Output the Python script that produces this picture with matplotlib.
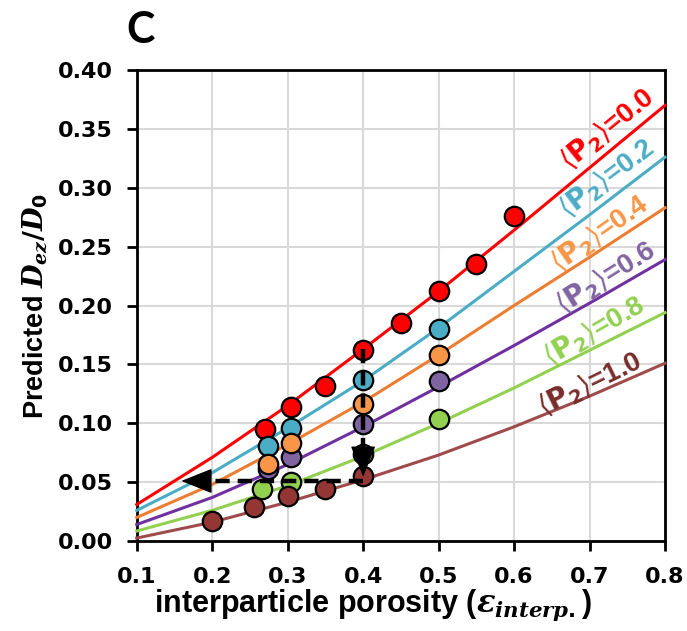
import numpy as np
import matplotlib
matplotlib.use("Agg")
import matplotlib.pyplot as plt

plt.rcParams["mathtext.fontset"] = "custom"
plt.rcParams["mathtext.it"] = "DejaVu Serif:italic:bold"
plt.rcParams["mathtext.rm"] = "DejaVu Sans:bold"
plt.rcParams["mathtext.bf"] = "DejaVu Sans:bold"

# model curves, read at each 0.1 of porosity
curve_x = [0.1, 0.2, 0.3, 0.4, 0.5, 0.6, 0.7, 0.8]
curve_p00 = [0.031, 0.071, 0.115, 0.163, 0.212, 0.264, 0.317, 0.370]
curve_p02 = [0.026, 0.058, 0.096, 0.136, 0.181, 0.229, 0.277, 0.326]
curve_p04 = [0.020, 0.048, 0.082, 0.118, 0.158, 0.200, 0.241, 0.283]
curve_p06 = [0.014, 0.037, 0.065, 0.097, 0.131, 0.166, 0.202, 0.239]
curve_p08 = [0.0085, 0.026, 0.047, 0.072, 0.100, 0.130, 0.162, 0.194]
curve_p10 = [0.0025, 0.016, 0.033, 0.052, 0.073, 0.097, 0.123, 0.151]

# points
pts_p00_x = [0.27, 0.305, 0.35, 0.40, 0.45, 0.50, 0.55, 0.60]
pts_p00_y = [0.095, 0.114, 0.132, 0.162, 0.185, 0.212, 0.235, 0.276]
pts_p02_x = [0.274, 0.305, 0.40, 0.50]
pts_p02_y = [0.081, 0.096, 0.137, 0.180]
pts_p04_x = [0.274, 0.305, 0.40, 0.50]
pts_p04_y = [0.065, 0.083, 0.116, 0.158]
pts_p06_x = [0.274, 0.305, 0.40, 0.50]
pts_p06_y = [0.061, 0.071, 0.099, 0.136]
pts_p08_x = [0.266, 0.305, 0.40, 0.50]
pts_p08_y = [0.044, 0.050, 0.074, 0.104]
pts_p10_x = [0.20, 0.255, 0.30, 0.35, 0.40]
pts_p10_y = [0.017, 0.029, 0.038, 0.044, 0.055]

labels = ["0.0", "0.2", "0.4", "0.6", "0.8", "1.0"]
label_x = [0.723, 0.723, 0.714, 0.722, 0.706, 0.701]
label_y = [0.350, 0.308, 0.261, 0.2236, 0.178, 0.1335]
label_rot = [39, 37, 35, 32, 30, 26]

line_colors = ["#FF0000", "#4BACC6", "#ED7D31", "#7030A0", "#92D050", "#A04B4B"]
mark_colors = ["#FF0000", "#4BACC6", "#F79646", "#8064A2", "#92D050", "#943634"]
text_colors = ["#FF0000", "#4BACC6", "#F79646", "#8064A2", "#92D050", "#772C2A"]

curves = [curve_p00, curve_p02, curve_p04, curve_p06, curve_p08, curve_p10]
points = [(pts_p00_x, pts_p00_y), (pts_p02_x, pts_p02_y), (pts_p04_x, pts_p04_y),
          (pts_p06_x, pts_p06_y), (pts_p08_x, pts_p08_y), (pts_p10_x, pts_p10_y)]
point_z = [5, 6, 8, 7, 9, 10]

# read-out arrows
arrow_x = 0.40
arrow_top = 0.163
arrow_mid = 0.0545
arrow_h_y = 0.051
arrow_left = 0.159

fig = plt.figure(figsize=(6.87, 6.31), dpi=100)
ax = fig.add_axes([0.199, 0.1426, 0.769, 0.7464])

for i in range(6):
    ax.plot(curve_x, curves[i], color=line_colors[i], lw=2.2, zorder=3, clip_on=False)
    px, py = points[i]
    ax.plot(px, py, "o", ms=14, mfc=mark_colors[i], mec="black", mew=1.6,
            zorder=point_z[i])
    ax.text(label_x[i], label_y[i],
            r"$\left\langle\mathbf{P}_{\mathbf{2}}\right\rangle$=" + labels[i],
            color=text_colors[i], fontsize=20, fontweight="bold",
            family="Liberation Sans", math_fontfamily="dejavusans",
            rotation=label_rot[i], rotation_mode="anchor",
            ha="center", va="center", zorder=12)

dash = (0, (3.2, 1.8))
ax.plot([arrow_x, arrow_x], [arrow_top, arrow_mid + 0.02], color="black",
        lw=3.2, linestyle=dash, zorder=15)
ax.annotate("", xy=(arrow_x, arrow_mid), xytext=(arrow_x, arrow_mid + 0.021),
            arrowprops=dict(arrowstyle="-|>,head_length=20,head_width=8",
                            mutation_scale=1, lw=1, color="black",
                            shrinkA=0, shrinkB=0), zorder=16)
ax.plot([arrow_x, arrow_left + 0.035], [arrow_h_y, arrow_h_y], color="black",
        lw=3.2, linestyle=dash, zorder=15)
ax.annotate("", xy=(arrow_left, arrow_h_y), xytext=(arrow_left + 0.036, arrow_h_y),
            arrowprops=dict(arrowstyle="-|>,head_length=20,head_width=8",
                            mutation_scale=1, lw=1, color="black",
                            shrinkA=0, shrinkB=0), zorder=16)

ax.set_xlim(0.1, 0.8)
ax.set_ylim(0, 0.40)
ax.set_xticks(np.arange(0.1, 0.81, 0.1))
ax.set_yticks(np.arange(0, 0.401, 0.05))
ax.set_xticklabels([f"{v:.1f}" for v in np.arange(0.1, 0.81, 0.1)])
ax.set_yticklabels([f"{v:.2f}" for v in np.arange(0, 0.401, 0.05)])
ax.grid(True, color="#D9D9D9", lw=1.5)
ax.set_axisbelow(True)
for s in ax.spines.values():
    s.set_linewidth(2)
    s.set_color("black")
ax.tick_params(direction="out", length=7, width=2, labelsize=16)
ax.tick_params(axis="x", pad=12)
ax.tick_params(axis="y", pad=10)
for lab in ax.get_xticklabels() + ax.get_yticklabels():
    lab.set_family("DejaVu Sans")
    lab.set_fontweight("bold")

ax.set_xlabel(r"interparticle porosity ($\mathit{\varepsilon_{interp.}}$)",
              fontsize=22, fontweight="bold", family="Liberation Sans", labelpad=0)
ax.xaxis.label.set_x(0.447)
ax.set_ylabel(r"Predicted $\mathit{D_{ez}/D_0}$", fontsize=19.5,
              fontweight="bold", family="Liberation Sans", labelpad=6)

fig.text(0.204, 0.953, "C", fontsize=31, fontweight="bold", family="Lato",
         ha="center", va="center")

fig.savefig("out.png", dpi=100)
